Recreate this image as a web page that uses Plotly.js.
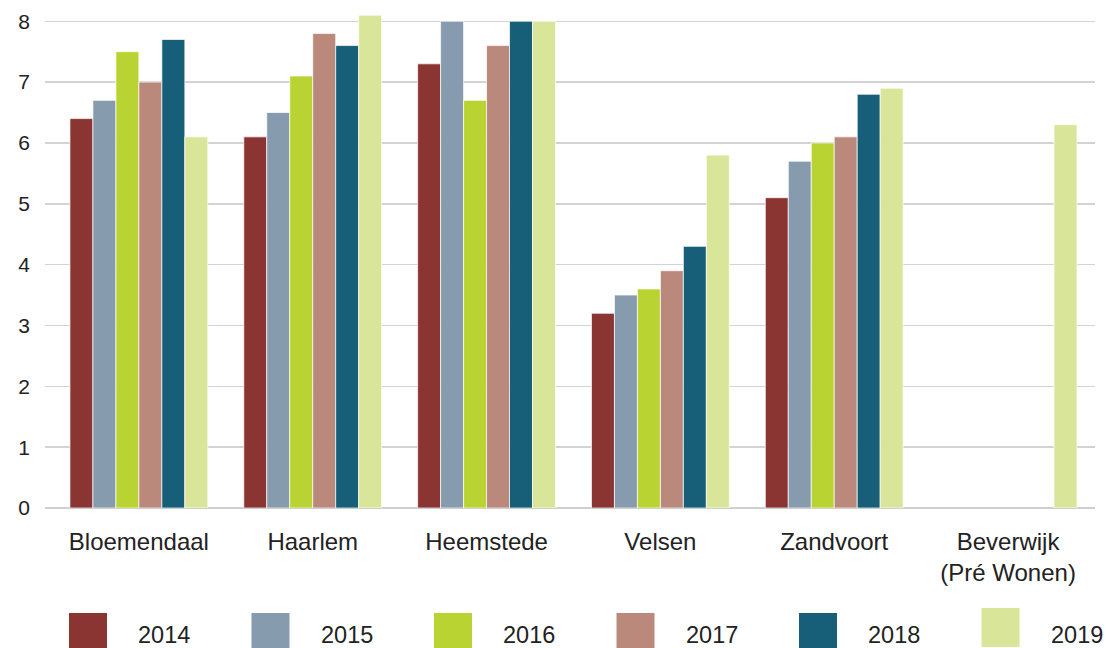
<!DOCTYPE html>
<html>
<head>
<meta charset="utf-8">
<script src="https://cdn.plot.ly/plotly-3.0.1.min.js"></script>
<style>
  html, body { margin: 0; padding: 0; background: #ffffff; }
  #chart { width: 1106px; height: 648px; }
</style>
</head>
<body>
<div id="chart"></div>
<script>
// ---- DATA ----
const categories = ["Bloemendaal", "Haarlem", "Heemstede", "Velsen", "Zandvoort", "Beverwijk<br>(Pré Wonen)"];
const years = ["2014", "2015", "2016", "2017", "2018", "2019"];
const v2014 = [6.4, 6.1, 7.3, 3.2, 5.1, null];
const v2015 = [6.7, 6.5, 8.0, 3.5, 5.7, null];
const v2016 = [7.5, 7.1, 6.7, 3.6, 6.0, null];
const v2017 = [7.0, 7.8, 7.6, 3.9, 6.1, null];
const v2018 = [7.7, 7.6, 8.0, 4.3, 6.8, null];
const v2019 = [6.1, 8.1, 8.0, 5.8, 6.9, 6.3];
const yTickVals = [0, 1, 2, 3, 4, 5, 6, 7, 8];

// ---- STYLE ----
const colors = ["#8A3531", "#869BAE", "#B9D432", "#BA897B", "#175F78", "#D9E69A"];
const series = [v2014, v2015, v2016, v2017, v2018, v2019];
const FONT = "'Liberation Sans', Arial, Helvetica, sans-serif";
const W = 1106, H = 648;
const M = { l: 45, r: 11, t: 3, b: 140 };
const plotW = W - M.l - M.r, plotH = H - M.t - M.b;
const px2x = (px) => (px - M.l) / plotW;
const py2y = (py) => (H - M.b - py) / plotH;

const traces = series.map((vals, i) => ({
  type: "bar",
  name: years[i],
  x: categories,
  y: vals,
  marker: { color: colors[i], line: { color: "rgba(255,255,255,0.7)", width: 1 } },
  hoverinfo: "x+y+name"
}));

// custom legend (large swatches)
const shapes = [];
const annotations = [];
const legStart = 69, legStep = 182.5, swW = 38;
years.forEach((yr, i) => {
  const x0 = legStart + i * legStep;
  const top = (i === 5) ? 608 : 613;
  const bot = (i === 5) ? 647 : 651;
  shapes.push({
    type: "rect", xref: "paper", yref: "paper",
    x0: px2x(x0), x1: px2x(x0 + swW), y0: py2y(bot), y1: py2y(top),
    fillcolor: colors[i], line: { width: 0 }, layer: "above"
  });
  annotations.push({
    xref: "paper", yref: "paper", x: px2x(x0 + 68), y: py2y(634.5),
    xanchor: "left", yanchor: "middle", showarrow: false, text: yr,
    borderpad: 0,
    font: { family: FONT, size: 23.5, color: "#222222" }
  });
});

const layout = {
  width: W, height: H,
  margin: M,
  paper_bgcolor: "#ffffff",
  plot_bgcolor: "#ffffff",
  barmode: "group",
  bargap: 0.207,
  bargroupgap: 0,
  showlegend: false,
  font: { family: FONT, color: "#222222" },
  xaxis: {
    type: "category",
    range: [-0.54, 5.5],
    showgrid: false, zeroline: false, showline: false,
    ticks: "",
    ticklabelstandoff: 17,
    tickfont: { family: FONT, size: 24, color: "#222222" },
    fixedrange: true
  },
  yaxis: {
    range: [0, 8.3],
    tickvals: yTickVals,
    ticktext: yTickVals.map(String),
    showgrid: true, gridcolor: "#d3d3d3", gridwidth: 1.5,
    zeroline: true, zerolinecolor: "#cfcfcf", zerolinewidth: 1.5,
    showline: false, ticks: "",
    ticklabelstandoff: 14,
    tickfont: { family: FONT, size: 21, color: "#222222" },
    fixedrange: true
  },
  shapes: shapes,
  annotations: annotations
};

Plotly.newPlot("chart", traces, layout, { displayModeBar: false, staticPlot: true });
</script>
</body>
</html>
